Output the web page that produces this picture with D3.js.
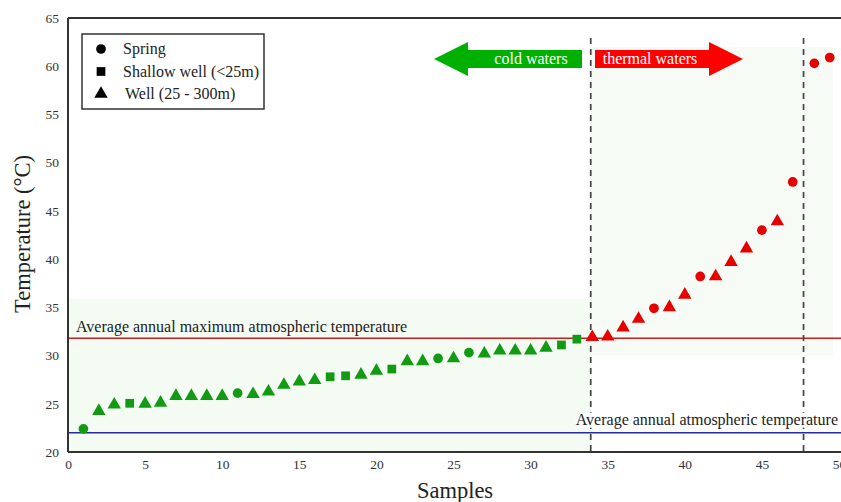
<!DOCTYPE html>
<html>
<head>
<meta charset="utf-8">
<script src="https://cdn.jsdelivr.net/npm/d3@7"></script>
<style>
  body { margin: 0; background: #fff; }
  svg { display: block; font-family: 'Liberation Serif', 'Times New Roman', serif; }
</style>
</head>
<body>
<svg id="chart" width="841" height="502"></svg>
<script>
/*******************************************************************************************/
// Data

var samples = [1, 2, 3, 4, 5, 6, 7, 8, 9, 10, 11, 12, 13, 14, 15, 16, 17, 18, 19, 20, 21, 22, 23, 24, 25,
               26, 27, 28, 29, 30, 31, 32, 33, 34, 35, 36, 37, 38, 39, 40, 41, 42, 43, 44, 45, 46, 47, 48.4, 49.4];
var temps = [22.4, 24.25, 24.9, 25.05, 25.0, 25.1, 25.8, 25.8, 25.8, 25.8, 26.1, 26.0, 26.25, 26.95, 27.3, 27.45, 27.8, 27.9, 28.0, 28.4,
             28.6, 29.4, 29.4, 29.7, 29.7, 30.3, 30.2, 30.5, 30.5, 30.5, 30.8, 31.1, 31.7, 31.9, 31.95, 32.9, 33.8, 34.9, 35.0, 36.3,
             38.2, 38.2, 39.7, 41.1, 43.0, 43.9, 48.0, 60.3, 60.9];
var types = ['spring', 'well', 'well', 'shallow', 'well', 'well', 'well', 'well', 'well', 'well', 'spring', 'well', 'well', 'well', 'well',
             'well', 'shallow', 'shallow', 'well', 'well', 'shallow', 'well', 'well', 'spring', 'well', 'spring', 'well', 'well', 'well', 'well',
             'well', 'shallow', 'shallow', 'well', 'well', 'well', 'well', 'spring', 'well', 'well', 'spring', 'well', 'well', 'well', 'spring',
             'well', 'spring', 'spring', 'spring'];

var legendKeys = ['spring', 'shallow', 'well'];
var legendLabels = ['Spring', 'Shallow well (<25m)', 'Well (25 - 300m)'];

var xTicks = [0, 5, 10, 15, 20, 25, 30, 35, 40, 45, 50];
var yTicks = [20, 25, 30, 35, 40, 45, 50, 55, 60, 65];

var thermalLimit = 33.9, upperLimit = 47.7;       // dashed separators
var maxAtmTemp = 31.8, meanAtmTemp = 22;          // reference lines

/*******************************************************************************************/
// Scales

var svg = d3.select('#chart');
var xScale = d3.scaleLinear().domain([0, 50]).range([68, 839]);
var yScale = d3.scaleLinear().domain([20, 65]).range([452, 18]);

var coldGreen = '#129a12', hotRed = '#e60000';

function symbolOf(t){
  if (t == 'spring') return d3.symbol().type(d3.symbolCircle).size(74)();
  if (t == 'shallow') return d3.symbol().type(d3.symbolSquare).size(76)();
  return d3.symbol().type(d3.symbolTriangle).size(78)();
}

/*******************************************************************************************/
// Shaded areas

svg.append('rect')
  .attr('x', xScale(0)).attr('y', yScale(35.9))
  .attr('width', xScale(thermalLimit) - xScale(0)).attr('height', yScale(20) - yScale(35.9))
  .attr('fill', '#f4fbf3');
svg.append('rect')
  .attr('x', xScale(thermalLimit)).attr('y', yScale(62))
  .attr('width', xScale(49.6) - xScale(thermalLimit)).attr('height', yScale(30) - yScale(62))
  .attr('fill', '#f6fbf5');

/*******************************************************************************************/
// Reference lines

svg.append('line')
  .attr('x1', xScale(0)).attr('x2', 841).attr('y1', yScale(maxAtmTemp)).attr('y2', yScale(maxAtmTemp))
  .attr('stroke', '#c81e1e').attr('stroke-width', 1.5);
svg.append('line')
  .attr('x1', xScale(0)).attr('x2', 841).attr('y1', yScale(meanAtmTemp)).attr('y2', yScale(meanAtmTemp))
  .attr('stroke', '#2a2aa0').attr('stroke-width', 1.5);

svg.append('text')
  .attr('x', 76).attr('y', yScale(maxAtmTemp) - 6)
  .attr('font-size', 16).attr('fill', '#222')
  .text('Average annual maximum atmospheric temperature');

[thermalLimit, upperLimit].forEach(function(v){
  svg.append('line')
    .attr('x1', xScale(v)).attr('x2', xScale(v)).attr('y1', 38).attr('y2', yScale(20))
    .attr('stroke', '#444').attr('stroke-width', 1.7).attr('stroke-dasharray', '6,5');
});

// label box hides the dashed line behind it
var bottomLabel = svg.append('text')
  .attr('x', 838).attr('y', yScale(meanAtmTemp) - 8)
  .attr('text-anchor', 'end').attr('font-size', 16).attr('fill', '#222')
  .text('Average annual atmospheric temperature');
var bb = bottomLabel.node().getBBox();
svg.insert('rect', 'text:last-of-type')
  .attr('x', bb.x).attr('y', bb.y + 2).attr('width', bb.width).attr('height', bb.height - 3)
  .attr('fill', '#fff');
svg.node().appendChild(bottomLabel.node());

/*******************************************************************************************/
// Arrows

var arrowY = 59;
function arrow(x0, x1, dir, color, label){
  var tip = dir < 0 ? x0 : x1, base = dir < 0 ? x0 + 34 : x1 - 34, tail = dir < 0 ? x1 : x0;
  var pts = [[tail, arrowY - 9], [base, arrowY - 9], [base, arrowY - 17], [tip, arrowY],
             [base, arrowY + 17], [base, arrowY + 9], [tail, arrowY + 9]];
  svg.append('path').attr('d', d3.line()(pts) + 'Z').attr('fill', color);
  svg.append('text')
    .attr('x', dir < 0 ? (base + tail) / 2 + 6 : (base + tail) / 2 - 2).attr('y', arrowY + 5)
    .attr('text-anchor', 'middle').attr('font-size', 16).attr('fill', '#fff')
    .text(label);
}
arrow(434, 582, -1, '#00b000', 'cold waters');
arrow(595, 743, 1, '#ff0000', 'thermal waters');

/*******************************************************************************************/
// Points

svg.append('g').selectAll('path')
  .data(samples.map(function(s, i){ return { x: s, y: temps[i], t: types[i] }; }))
  .enter().append('path')
  .attr('d', function(d){ return symbolOf(d.t); })
  .attr('transform', function(d){ return 'translate(' + xScale(d.x) + ',' + yScale(d.y) + ')'; })
  .attr('fill', function(d){ return d.x > thermalLimit ? hotRed : coldGreen; });

/*******************************************************************************************/
// Axes and frame

var xAxis = svg.append('g').attr('transform', 'translate(0,' + yScale(20) + ')')
  .call(d3.axisBottom(xScale).tickValues(xTicks).tickSize(0).tickPadding(7));
var yAxis = svg.append('g').attr('transform', 'translate(' + xScale(0) + ',0)')
  .call(d3.axisLeft(yScale).tickValues(yTicks).tickSize(0).tickPadding(9));

[xAxis, yAxis].forEach(function(a){
  a.select('.domain').remove();
  a.selectAll('text').attr('font-family', "'Liberation Serif', serif").attr('font-size', 13.5).attr('fill', '#333');
});

svg.append('line').attr('x1', xScale(0)).attr('x2', 841).attr('y1', yScale(65)).attr('y2', yScale(65))
  .attr('stroke', '#333').attr('stroke-width', 2);
svg.append('line').attr('x1', xScale(0)).attr('x2', 841).attr('y1', yScale(20)).attr('y2', yScale(20))
  .attr('stroke', '#333').attr('stroke-width', 2);
svg.append('line').attr('x1', xScale(0)).attr('x2', xScale(0)).attr('y1', yScale(65)).attr('y2', yScale(20))
  .attr('stroke', '#333').attr('stroke-width', 2);

svg.append('text')
  .attr('x', 455).attr('y', 498).attr('text-anchor', 'middle').attr('font-size', 22.5).attr('fill', '#222')
  .text('Samples');
svg.append('text')
  .attr('transform', 'translate(30,' + 234 + ') rotate(-90)').attr('text-anchor', 'middle')
  .attr('font-size', 22.5).attr('fill', '#222')
  .text('Temperature (°C)');

/*******************************************************************************************/
// Legend

var legend = svg.append('g').attr('transform', 'translate(82,34)');
legend.append('rect').attr('width', 182).attr('height', 75)
  .attr('fill', '#fff').attr('stroke', '#333').attr('stroke-width', 1.5);
legendKeys.forEach(function(k, i){
  var y = 15 + i * 22.5;
  legend.append('path').attr('d', symbolOf(k)).attr('transform', 'translate(19,' + y + ')').attr('fill', '#000');
  legend.append('text').attr('x', i == 2 ? 43 : 41).attr('y', y + 5).attr('font-size', 16).attr('fill', '#222')
    .text(legendLabels[i]);
});
</script>
</body>
</html>
